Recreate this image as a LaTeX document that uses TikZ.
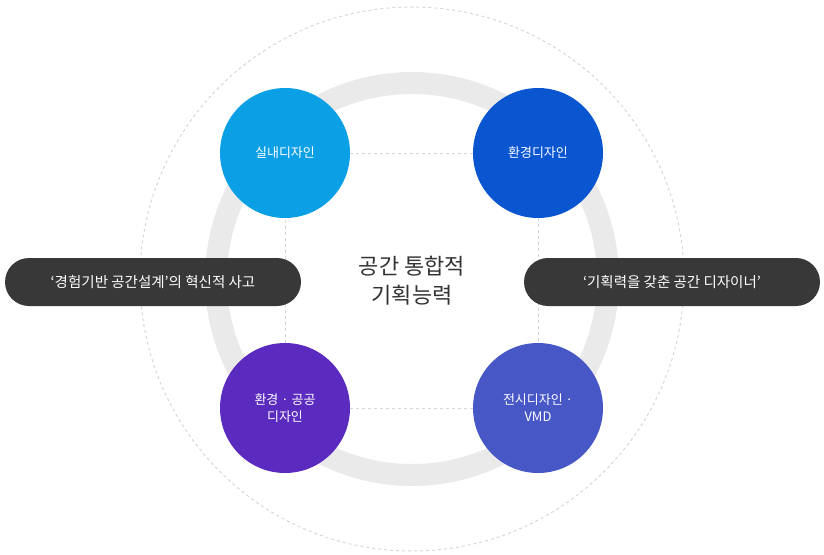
\documentclass[tikz,border=0pt]{standalone}
\usepackage{fontspec}
\setmainfont{Noto Sans CJK KR}
\usetikzlibrary{positioning}
\definecolor{ringgray}{HTML}{EAEAEA}
\definecolor{dashgray}{HTML}{D6D6D6}
\definecolor{pilldark}{HTML}{383838}
\definecolor{cInterior}{HTML}{0B9FE6}
\definecolor{cEnviron}{HTML}{0A55D0}
\definecolor{cPublic}{HTML}{5A2BBE}
\definecolor{cDisplay}{HTML}{4757C6}
\tikzset{
  area/.style={circle, minimum size=130pt, inner sep=0pt, text=white,
    font=\fontsize{13}{17}\selectfont, align=center},
  pill/.style={rounded corners=24pt, minimum height=48pt, minimum width=296pt,
    fill=pilldark, text=white, font=\fontsize{14.5}{18}\selectfont},
  link/.style={dashgray, dashed, line width=0.6pt}
}
\begin{document}
\begin{tikzpicture}[x=1pt,y=-1pt]
  \useasboundingbox (0,0) rectangle (824,554);
  % background rings
  \draw[dashgray, dashed, line width=1pt] (412,279) circle (272pt);
  \draw[ringgray, line width=22pt] (412,279) circle (196pt);
  % centre text
  \node[font=\fontsize{22}{29}\selectfont, text=black!80, align=center] (core) at (412,281) {공간 통합적\\기획능력};
  % four areas
  \node[area, fill=cInterior] (inter) at (285,153) {실내디자인};
  \node[area, fill=cEnviron] (envir) at (538,153) {환경디자인};
  \node[area, fill=cPublic] (publ) at (285,408) {환경 · 공공\\디자인};
  \node[area, fill=cDisplay] (disp) at (538,408) {전시디자인 ·\\VMD};
  % links
  \draw[link] (inter) -- (envir);
  \draw[link] (envir) -- (disp);
  \draw[link] (disp) -- (publ);
  \draw[link] (publ) -- (inter);
  % pills
  \node[pill] (left) at (153,282) {‘경험기반 공간설계’의 혁신적 사고};
  \node[pill] (right) at (672,282) {‘기획력을 갖춘 공간 디자이너’};
\end{tikzpicture}
\end{document}
